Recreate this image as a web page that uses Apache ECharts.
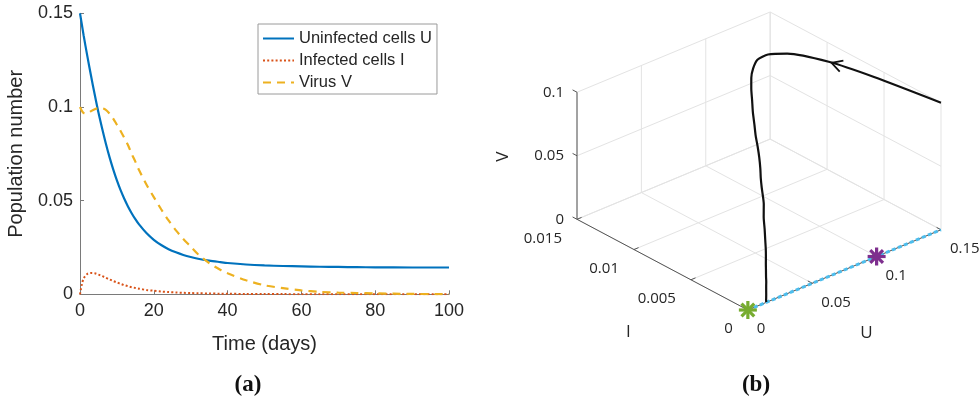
<!DOCTYPE html>
<html><head><meta charset="utf-8">
<script src="https://cdn.jsdelivr.net/npm/echarts@6/dist/echarts.min.js"></script>
<style>html,body{margin:0;padding:0;background:#fff}#c{width:980px;height:401px}</style>
</head><body><div id="c"></div>
<script>
// ---------------- data ----------------
const time = [0, 0.5, 1, 2, 3, 4, 5, 6, 7, 8, 9, 10, 11, 12, 13, 14, 15, 16, 18, 20, 22, 24, 26, 28, 30, 32, 35, 38, 40, 45, 50, 55, 60, 65, 70, 75, 80, 90, 100];
const uninfected = [0.150, 0.144, 0.138, 0.127, 0.1165, 0.1065, 0.097, 0.0885, 0.0805, 0.0732, 0.0667, 0.0608, 0.0556, 0.0510, 0.0469, 0.0433, 0.0401, 0.0373, 0.0327, 0.0291, 0.0263, 0.0241, 0.0224, 0.0210, 0.0199, 0.0190, 0.0180, 0.0172, 0.0167, 0.0159, 0.0154, 0.0151, 0.0149, 0.0147, 0.0146, 0.0145, 0.0144, 0.0143, 0.0143];
const infected = [0, 0.0052, 0.0085, 0.0109, 0.0114, 0.0112, 0.0105, 0.0097, 0.0088, 0.0079, 0.0071, 0.0063, 0.0056, 0.0049, 0.0043, 0.0038, 0.0034, 0.0030, 0.0023, 0.0019, 0.0015, 0.0012, 0.00096, 0.00079, 0.00067, 0.00056, 0.00044, 0.00033, 0.00028, 0.00019, 0.00013, 0.0001, 0.00008, 0.00006, 0.00004, 0.00003, 0.00002, 0.00001, 0];
const virus = [0.100, 0.098, 0.0968, 0.0965, 0.0978, 0.0988, 0.0993, 0.0993, 0.0985, 0.0965, 0.0938, 0.0905, 0.0872, 0.0835, 0.0797, 0.0750, 0.0708, 0.0663, 0.0586, 0.0519, 0.0454, 0.0394, 0.0341, 0.0295, 0.0255, 0.0214, 0.0167, 0.0131, 0.0112, 0.0075, 0.0048, 0.0033, 0.0021, 0.0013, 0.0009, 0.0007, 0.0005, 0.0002, 0.0001];
const seriesNames = ['Uninfected cells U', 'Infected cells I', 'Virus V'];
const timeTicks = [0, 20, 40, 60, 80, 100];
const popTicks = ['0', '0.05', '0.1', '0.15'];

// 3D phase portrait (panel b)
const uTicks = [0, 0.05, 0.1, 0.15];
const iTicks = [0, 0.005, 0.01, 0.015];
const vTicks = [0, 0.05, 0.1];
const uTickLabels = ['0', '0.05', '0.1', '0.15'];
const iTickLabels = ['0', '0.005', '0.01', '0.015'];
const vTickLabels = ['0', '0.05', '0.1'];
const equilibriumPoints = [[0, 0, 0], [0.1, 0, 0]];   // (U, I, V)
const equilibriumLine = [[0, 0, 0], [0.15, 0, 0]];
const panelLabels = ['(a)', '(b)'];

// ---------------- styles ----------------
const C = {blue:'#0072BD', red:'#D95319', yellow:'#EDB120', purple:'#7E2F8E', green:'#77AC30', cyan:'#4DBEEE', text:'#262626'};
const F2D = '"Liberation Sans", Arial, Helvetica, sans-serif';
const F3D = '"Open Sans", "Noto Sans", sans-serif';

// orthographic view of the 3D box
const VIEW = {az: 41.5 * Math.PI / 180, el: 28 * Math.PI / 180, zAspect: 0.558};
const RANGE = {u: 0.15, i: 0.015, v: 0.1};
function proj(u, i, v) {
  const nu = u / RANGE.u, ni = i / RANGE.i, nv = v / RANGE.v;
  const s = Math.sin(VIEW.az), c = Math.cos(VIEW.az);
  return [nu * c - ni * s, (nu * s + ni * c) * Math.sin(VIEW.el) + nv * VIEW.zAspect * Math.cos(VIEW.el)];
}
const pxMin = proj(0, RANGE.i, 0)[0], pxMax = proj(RANGE.u, 0, 0)[0];
const pyMax = proj(RANGE.u, RANGE.i, RANGE.v)[1];

const trajectory = time.map((t, k) => proj(uninfected[k], infected[k], virus[k]));

function txt(x, y, text, opt) {
  return {type:'text', x, y, rotation: opt.rotation || 0, silent:true, style:{
    text, fill: C.text, fontSize: opt.size || 15, fontFamily: opt.family || F3D,
    align: opt.align || 'center', verticalAlign: 'middle',
    textAlign: opt.align || 'center', textVerticalAlign: 'middle'}};
}

function renderBox(params, api) {
  const P = (u, i, v) => api.coord(proj(u, i, v));
  const ch = [];
  const seg = (a, b, stroke, w) => ch.push({type:'line', silent:true, shape:{x1:a[0], y1:a[1], x2:b[0], y2:b[1]}, style:{stroke, lineWidth:w}});
  const GRID = '#e3e3e3', AX = '#555555';
  const U1 = RANGE.u, I1 = RANGE.i, V1 = RANGE.v;
  // floor
  uTicks.forEach(u => seg(P(u, 0, 0), P(u, I1, 0), GRID, 1));
  iTicks.forEach(i => seg(P(0, i, 0), P(U1, i, 0), GRID, 1));
  // back wall I = max
  uTicks.forEach(u => seg(P(u, I1, 0), P(u, I1, V1), GRID, 1));
  vTicks.forEach(v => seg(P(0, I1, v), P(U1, I1, v), GRID, 1));
  // back wall U = max
  iTicks.forEach(i => seg(P(U1, i, 0), P(U1, i, V1), GRID, 1));
  vTicks.forEach(v => seg(P(U1, 0, v), P(U1, I1, v), GRID, 1));
  // axes
  seg(P(0, I1, 0), P(0, I1, V1), AX, 1);
  seg(P(0, 0, 0), P(0, I1, 0), AX, 1);
  seg(P(0, 0, 0), P(U1, 0, 0), AX, 1);
  const o = P(0, 0, 0), pu = P(U1, 0, 0), pi = P(0, I1, 0);
  const norm = (a, b) => { const dx = b[0]-a[0], dy = b[1]-a[1], L = Math.hypot(dx, dy); return [dx/L, dy/L]; };
  const dU = norm(o, pu), dI = norm(o, pi);
  const TL = 5;
  vTicks.forEach((v, k) => {
    const p = P(0, I1, v);
    seg(p, [p[0] + dI[0]*TL, p[1] + dI[1]*TL], AX, 1);
    ch.push(txt(p[0] - 13, p[1], vTickLabels[k], {align:'right'}));
  });
  iTicks.forEach((i, k) => {
    const p = P(0, i, 0);
    seg(p, [p[0] + dU[0]*TL, p[1] + dU[1]*TL], AX, 1);
    ch.push(txt(p[0] - 15, p[1] + 19, iTickLabels[k], {align:'right'}));
  });
  uTicks.forEach((u, k) => {
    const p = P(u, 0, 0);
    seg(p, [p[0] + dI[0]*TL, p[1] + dI[1]*TL], AX, 1);
    ch.push(txt(p[0] + 9, p[1] + 19, uTickLabels[k], {align:'left'}));
  });
  // axis names
  const vm = P(0, I1, V1 / 2), im = P(0, I1 / 2, 0), um = P(U1 / 2, 0, 0);
  ch.push(txt(vm[0] - 74, vm[1] + 1, 'V', {size:17, rotation: Math.PI / 2}));
  ch.push(txt(im[0] - 34, im[1] + 68, 'I', {size:17}));
  ch.push(txt(um[0] + 22, um[1] + 63, 'U', {size:17}));
  return {type:'group', children: ch};
}

function renderArrow(params, api) {
  // arrow head on the trajectory, pointing in the direction of motion (t=0.5 -> t=1)
  const a = api.coord(trajectory[1]), b = api.coord(trajectory[2]);
  const ang = Math.atan2(b[1] - a[1], b[0] - a[0]);
  const L = 12, spread = 0.5;
  const tip = [b[0] - 3 * Math.cos(ang), b[1] - 3 * Math.sin(ang)];
  const p1 = [tip[0] - L * Math.cos(ang - spread), tip[1] - L * Math.sin(ang - spread)];
  const p2 = [tip[0] - L * Math.cos(ang + spread), tip[1] - L * Math.sin(ang + spread)];
  return {type:'polyline', silent:true, shape:{points:[p1, tip, p2]}, style:{stroke:'#111', lineWidth:1.8, fill:null}};
}

function renderStar(params, api) {
  const p = api.coord([api.value(0), api.value(1)]);
  const color = params.dataIndex === 0 ? C.green : C.purple;
  const r = 9, ch = [];
  for (let k = 0; k < 4; k++) {
    const a = k * Math.PI / 4;
    ch.push({type:'line', silent:true, shape:{x1:p[0] - r*Math.cos(a), y1:p[1] - r*Math.sin(a), x2:p[0] + r*Math.cos(a), y2:p[1] + r*Math.sin(a)}, style:{stroke:color, lineWidth:3.2}});
  }
  return {type:'group', children: ch};
}

const chart = echarts.init(document.getElementById('c'), null, {renderer:'canvas'});
const axisGray = '#7a7a7a';
chart.setOption({
  animation: false,
  backgroundColor: '#ffffff',
  grid: [
    {left: 80, top: 13.3, width: 369, height: 281},
    {left: 577, top: 12, width: 364, height: 298}
  ],
  xAxis: [
    {gridIndex: 0, type: 'value', min: 0, max: 100, interval: 20,
     axisLine: {show: true, onZero: false, lineStyle: {color: axisGray, width: 1}},
     axisTick: {show: true, inside: true, length: 4, lineStyle: {color: axisGray}},
     axisLabel: {color: C.text, fontSize: 18, fontFamily: F2D, margin: 8,
       formatter: v => timeTicks.includes(v) ? String(v) : ''},
     splitLine: {show: false},
     name: 'Time (days)', nameLocation: 'middle', nameGap: 40,
     nameTextStyle: {color: C.text, fontSize: 20, fontFamily: F2D}},
    {gridIndex: 1, type: 'value', min: pxMin, max: pxMax, show: false}
  ],
  yAxis: [
    {gridIndex: 0, type: 'value', min: 0, max: 0.15, interval: 0.05,
     axisLine: {show: true, onZero: false, lineStyle: {color: axisGray, width: 1}},
     axisTick: {show: true, inside: true, length: 4, lineStyle: {color: axisGray}},
     axisLabel: {color: C.text, fontSize: 18, fontFamily: F2D, margin: 7,
       formatter: v => popTicks[Math.round(v / 0.05)]},
     splitLine: {show: false},
     name: 'Population number', nameLocation: 'middle', nameGap: 54,
     nameTextStyle: {color: C.text, fontSize: 20, fontFamily: F2D}},
    {gridIndex: 1, type: 'value', min: 0, max: pyMax, show: false}
  ],
  legend: {
    orient: 'vertical', left: 258, top: 24, padding: [6, 5, 3, 4],
    itemWidth: 31, itemHeight: 12, itemGap: 5,
    itemStyle: {opacity: 0},
    backgroundColor: '#ffffff', borderColor: '#9a9a9a', borderWidth: 1, borderRadius: 0,
    textStyle: {color: C.text, fontSize: 16.5, fontFamily: F2D},
    data: seriesNames
  },
  series: [
    {name: seriesNames[0], type: 'line', xAxisIndex: 0, yAxisIndex: 0, symbol: 'none', smooth: 0.3,
     color: C.blue, lineStyle: {width: 2.2, color: C.blue},
     data: time.map((t, k) => [t, uninfected[k]])},
    {name: seriesNames[1], type: 'line', xAxisIndex: 0, yAxisIndex: 0, symbol: 'none', smooth: 0.3,
     color: C.red, lineStyle: {width: 2, color: C.red, type: [2, 2.2]},
     data: time.map((t, k) => [t, infected[k]])},
    {name: seriesNames[2], type: 'line', xAxisIndex: 0, yAxisIndex: 0, symbol: 'none', smooth: 0.3,
     color: C.yellow, lineStyle: {width: 2.2, color: C.yellow, type: [8, 6]},
     data: time.map((t, k) => [t, virus[k]])},
    // panel b
    {type: 'custom', xAxisIndex: 1, yAxisIndex: 1, renderItem: renderBox, data: [[0, 0]], silent: true, z: 1},
    {type: 'line', xAxisIndex: 1, yAxisIndex: 1, symbol: 'none', silent: true, z: 3,
     lineStyle: {color: C.cyan, width: 3, type: [4, 2.5]},
     data: equilibriumLine.map(p => proj(p[0], p[1], p[2]))},
    {type: 'line', xAxisIndex: 1, yAxisIndex: 1, symbol: 'none', silent: true, z: 4, smooth: 0.22,
     lineStyle: {color: '#111', width: 2.2},
     data: trajectory},
    {type: 'custom', xAxisIndex: 1, yAxisIndex: 1, renderItem: renderArrow, data: [[0, 0]], silent: true, z: 5},
    {type: 'custom', xAxisIndex: 1, yAxisIndex: 1, renderItem: renderStar, silent: true, z: 6,
     data: equilibriumPoints.map(p => proj(p[0], p[1], p[2]))}
  ],
  graphic: [
    {type: 'text', x: 248, y: 385, silent: true, style: {text: panelLabels[0], fill: '#111', fontSize: 23, fontWeight: 'bold', fontFamily: '"Liberation Serif", "Times New Roman", serif', align: 'center', verticalAlign: 'middle', textAlign: 'center', textVerticalAlign: 'middle'}},
    {type: 'text', x: 756, y: 385, silent: true, style: {text: panelLabels[1], fill: '#111', fontSize: 23, fontWeight: 'bold', fontFamily: '"Liberation Serif", "Times New Roman", serif', align: 'center', verticalAlign: 'middle', textAlign: 'center', textVerticalAlign: 'middle'}}
  ]
});
</script>
</body></html>
